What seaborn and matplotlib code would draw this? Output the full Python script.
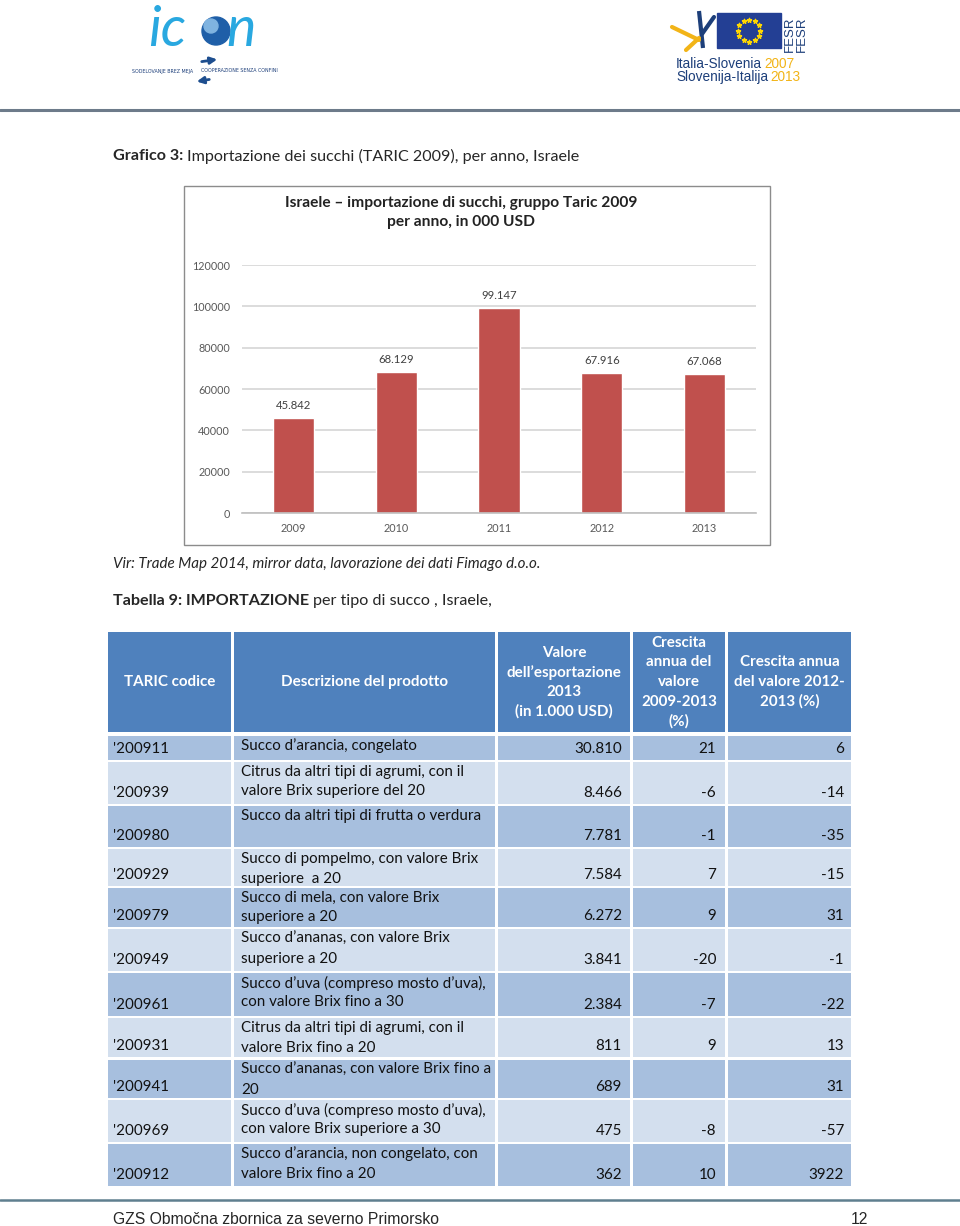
import numpy as np
import pandas as pd
import seaborn as sns
import matplotlib.pyplot as plt
from matplotlib.patches import Rectangle, Circle

# bar chart data
years = ['2009', '2010', '2011', '2012', '2013']
imports = [45842, 68129, 99147, 67916, 67068]
bar_labels = ['45.842', '68.129', '99.147', '67.916', '67.068']
y_ticks = [0, 20000, 40000, 60000, 80000, 100000, 120000]

# table data
taric_codes = ["'200911", "'200939", "'200980", "'200929", "'200979", "'200949",
               "'200961", "'200931", "'200941", "'200969", "'200912"]
descriptions = [
    ['Succo d\u2019arancia, congelato'],
    ['Citrus da altri tipi di agrumi, con il', 'valore Brix superiore del 20'],
    ['Succo da altri tipi di frutta o verdura'],
    ['Succo di pompelmo, con valore Brix', 'superiore  a 20'],
    ['Succo di mela, con valore Brix', 'superiore a 20'],
    ['Succo d\u2019ananas, con valore Brix', 'superiore a 20'],
    ['Succo d\u2019uva (compreso mosto d\u2019uva),', 'con valore Brix fino a 30'],
    ['Citrus da altri tipi di agrumi, con il', 'valore Brix fino a 20'],
    ['Succo d\u2019ananas, con valore Brix fino a', '20'],
    ['Succo d\u2019uva (compreso mosto d\u2019uva),', 'con valore Brix superiore a 30'],
    ['Succo d\u2019arancia, non congelato, con', 'valore Brix fino a 20'],
]
export_2013 = ['30.810', '8.466', '7.781', '7.584', '6.272', '3.841',
               '2.384', '811', '689', '475', '362']
growth_0913 = ['21', '-6', '-1', '7', '9', '-20', '-7', '9', '', '-8', '10']
growth_1213 = ['6', '-14', '-35', '-15', '31', '-1', '-22', '13', '31', '-57', '3922']
headers = [
    ['TARIC codice'],
    ['Descrizione del prodotto'],
    ['Valore', 'dell\u2019esportazione', '2013', '(in 1.000 USD)'],
    ['Crescita', 'annua del', 'valore', '2009-2013', '(%)'],
    ['Crescita annua', 'del valore 2012-', '2013 (%)'],
]

sns.set_style('white')
plt.rcParams['font.family'] = ['Lato', 'DejaVu Sans']

fig = plt.figure(figsize=(9.6, 12.26), dpi=100)
page = fig.add_axes([0, 0, 1, 1])
page.set_xlim(0, 960)
page.set_ylim(1226, 0)
page.axis('off')
renderer = fig.canvas.get_renderer()


def text_run(x, y, parts, size, gap=4, **kw):
    # write text pieces one after another on one line
    for s, extra in parts:
        t = page.text(x, y, s, fontsize=size, va='center', **kw, **extra)
        x = x + t.get_window_extent(renderer).width + gap
    return x


# ---- logos (rough) ----
page.text(148, 46, 'ic', fontsize=40, style='italic', color='#29A8E0', ha='left', va='baseline')
page.add_patch(Circle((216, 31), 14, color='#1F5FA8'))
page.add_patch(Circle((211, 26), 7, color='#7FB3E0'))
page.text(226, 46, 'n', fontsize=40, style='italic', color='#29A8E0', ha='left', va='baseline')
page.text(132, 71, 'SODELOVANJE BREZ MEJA', fontsize=3.4, color='#1D3F7A', va='center',
          family='DejaVu Sans')
page.text(201, 71, 'COOPERAZIONE SENZA CONFINI', fontsize=3.4, color='#1D3F7A', va='center',
          family='DejaVu Sans')
page.annotate('', xy=(220, 59), xytext=(199, 62),
              arrowprops=dict(arrowstyle='-|>', color='#1D4E8F', lw=2))
page.annotate('', xy=(194, 82), xytext=(212, 79),
              arrowprops=dict(arrowstyle='-|>', color='#1D4E8F', lw=2))

page.plot([699, 703], [11, 48], color='#1D3F7A', lw=3, solid_capstyle='butt')
page.plot([672, 699], [27, 40], color='#F2B417', lw=3)
page.plot([686, 699], [50, 38], color='#F2B417', lw=3)
page.plot([702, 714], [34, 17], color='#1D3F7A', lw=3)
page.add_patch(Rectangle((717, 13), 64, 35, color='#233F94'))
ang = np.linspace(0, 2 * np.pi, 13)[:-1]
page.scatter(749 + 11 * np.cos(ang), 30.5 + 11 * np.sin(ang), marker='*', s=10, color='#FFD700', zorder=3)
page.text(790, 34, 'FESR', rotation=90, fontsize=9.5, color='#1D3F7A', ha='center', va='center',
          family='Liberation Sans')
page.text(802, 34, 'FESR', rotation=90, fontsize=9.5, color='#1D3F7A', ha='center', va='center',
          family='Liberation Sans')
text_run(676, 64, [('Italia-Slovenia', {'color': '#1D3F7A'}), ('2007', {'color': '#F2B417'})],
         9.8, gap=2, family='Liberation Sans')
text_run(676, 77, [('Slovenija-Italija', {'color': '#1D3F7A'}), ('2013', {'color': '#F2B417'})],
         9.8, gap=2, family='Liberation Sans')

page.plot([0, 960], [110, 110], color='#6d7b8a', lw=2.2)

# ---- captions ----
text_run(113, 156, [('Grafico 3:', {'weight': 'bold'}),
                    ('Importazione dei succhi (TARIC 2009), per anno, Israele', {})], 11.6)
page.text(113, 564, 'Vir: Trade Map 2014, mirror data, lavorazione dei dati Fimago d.o.o.',
          fontsize=10.9, style='italic', va='center')
text_run(113, 601, [('Tabella 9: IMPORTAZIONE', {'weight': 'bold'}),
                    ('per tipo di succo , Israele,', {})], 11.6)

# ---- bar chart ----
page.add_patch(Rectangle((184, 186), 586, 359, fill=False, edgecolor='#8c8c8c', lw=1))
page.text(461, 203, 'Israele \u2013 importazione di succhi, gruppo Taric 2009', fontsize=11.2,
          weight='bold', ha='center', va='center', color='#222222')
page.text(461, 222, 'per anno, in 000 USD', fontsize=11.2, weight='bold', ha='center', va='center',
          color='#222222')

ax = fig.add_axes([242 / 960, (1226 - 513) / 1226, 514 / 960, 248 / 1226])
ax.set_facecolor('none')
df = pd.DataFrame({'year': years, 'value': imports})
sns.barplot(data=df, x='year', y='value', color='#C0504D', saturation=1, width=0.4, ax=ax)
ax.set_ylim(0, 120000)
ax.set_xlim(-0.5, 4.5)
ax.set_yticks(y_ticks)
ax.set_yticklabels([str(t) for t in y_ticks])
ax.yaxis.grid(True, color='#D9D9D9', lw=1.3)
ax.set_axisbelow(True)
for s in ['top', 'right', 'left']:
    ax.spines[s].set_visible(False)
ax.spines['bottom'].set_color('#BFBFBF')
ax.spines['bottom'].set_linewidth(1.2)
ax.tick_params(axis='both', length=0, labelsize=7.8, colors='#595959')
ax.tick_params(axis='y', pad=8.5)
ax.tick_params(axis='x', pad=7)
ax.set_xlabel('')
ax.set_ylabel('')
ax.bar_label(ax.containers[0], labels=bar_labels, padding=5, fontsize=8.2, color='#404040')

# ---- table ----
col_x = [(108, 231), (234, 495), (498, 630), (633, 725), (728, 851)]
head_y = (632, 732)
row_y = [(736, 760), (762, 804), (806, 847), (849, 886), (888, 927), (929, 971),
         (973, 1016), (1018, 1057), (1060, 1098), (1100, 1142), (1144, 1186)]
lh = 19.5
tsize = 10.9

for (x0, x1), lines in zip(col_x, headers):
    page.add_patch(Rectangle((x0, head_y[0]), x1 - x0, head_y[1] - head_y[0], color='#4F81BD', lw=0))
    cy = (head_y[0] + head_y[1]) / 2
    n = len(lines)
    for i, line in enumerate(lines):
        page.text((x0 + x1) / 2, cy + (i - (n - 1) / 2) * lh, line, fontsize=tsize, weight='bold',
                  color='white', ha='center', va='center')

for r, (y0, y1) in enumerate(row_y):
    fc = '#A7BFDE' if r % 2 == 0 else '#D3DFEE'
    for (x0, x1) in col_x:
        page.add_patch(Rectangle((x0, y0), x1 - x0, y1 - y0, color=fc, lw=0))
    yb = y1 - 11
    page.text(113, yb, taric_codes[r], fontsize=tsize, va='center', color='#111111')
    for i, line in enumerate(descriptions[r]):
        page.text(241, y0 + 10 + i * lh, line, fontsize=tsize, va='center', color='#111111')
    page.text(622, yb, export_2013[r], fontsize=tsize, va='center', ha='right', color='#111111')
    page.text(716, yb, growth_0913[r], fontsize=tsize, va='center', ha='right', color='#111111')
    page.text(844, yb, growth_1213[r], fontsize=tsize, va='center', ha='right', color='#111111')

# ---- footer ----
page.plot([0, 960], [1200, 1200], color='#5f7f8f', lw=1.8)
page.text(113, 1220, 'GZS Obmo\u010dna zbornica za severno Primorsko', fontsize=11.3, va='center',
          family='Liberation Sans')
page.text(868, 1220, '12', fontsize=11.3, va='center', ha='right', family='Liberation Sans')

fig.savefig('out.png', dpi=100)
